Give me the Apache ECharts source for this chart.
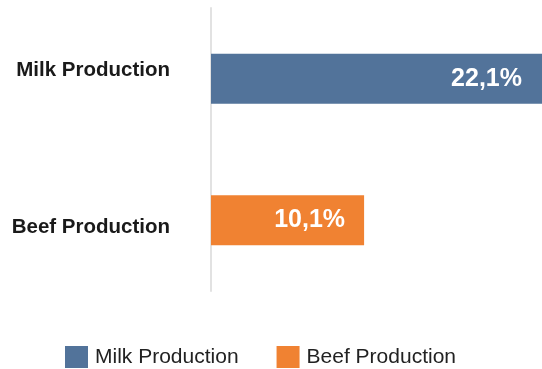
<!DOCTYPE html>
<html>
<head>
<meta charset="utf-8">
<script src="https://cdn.jsdelivr.net/npm/echarts@6/dist/echarts.min.js"></script>
<style>
  html, body { margin: 0; padding: 0; background: #ffffff; overflow: hidden; }
  #chart { width: 546px; height: 369px; }
</style>
</head>
<body>
<div id="chart"></div>
<script>
// Categories, top to bottom
const categories = ['Milk Production', 'Beef Production'];
// Share values (%) per series
const milkValues = [22.1, '-'];
const beefValues = ['-', 10.1];
const seriesNames = ['Milk Production', 'Beef Production'];
const seriesColors = ['#52739a', '#f08232'];

const fmt = p => String(p.value).replace('.', ',') + '%';

const chart = echarts.init(document.getElementById('chart'), null, { renderer: 'canvas' });
chart.setOption({
  animation: false,
  textStyle: { fontFamily: 'Liberation Sans, Arial, Helvetica, sans-serif' },
  grid: { left: 211, right: 0, top: 8, bottom: 78, containLabel: false },
  xAxis: {
    type: 'value', min: 0, max: 22.1,
    axisLine: { show: false }, axisTick: { show: false },
    axisLabel: { show: false }, splitLine: { show: false }
  },
  yAxis: {
    type: 'category', data: categories, inverse: true,
    axisLine: { show: true, lineStyle: { color: '#e2e2e2', width: 2 } },
    axisTick: { show: false },
    axisLabel: {
      margin: 41,
      formatter: (v, i) => (i === 0 ? '{up|' : '{down|') + v + '}',
      rich: {
        up: { color: '#1a1a1a', fontSize: 20.5, fontWeight: 'bold', padding: [0, 0, 16, 0] },
        down: { color: '#1a1a1a', fontSize: 20.5, fontWeight: 'bold', padding: [15, 0, 0, 0] }
      }
    }
  },
  legend: {
    data: seriesNames, left: 60, top: 341,
    itemWidth: 23, itemHeight: 22, itemGap: 38,
    icon: 'rect',
    textStyle: { fontSize: 21, color: '#222222', padding: [0, 0, 0, 2] }
  },
  series: [
    {
      name: seriesNames[0], type: 'bar', data: milkValues, barWidth: 50, barGap: '-100%',
      itemStyle: { color: seriesColors[0] },
      label: { show: true, position: 'insideRight', distance: 24, color: '#fff', fontSize: 25, fontWeight: 'bold', formatter: fmt }
    },
    {
      name: seriesNames[1], type: 'bar', data: beefValues, barWidth: 50, barGap: '-100%',
      itemStyle: { color: seriesColors[1] },
      label: { show: true, position: 'insideRight', distance: 19, color: '#fff', fontSize: 25, fontWeight: 'bold', formatter: fmt }
    }
  ]
});
</script>
</body>
</html>
